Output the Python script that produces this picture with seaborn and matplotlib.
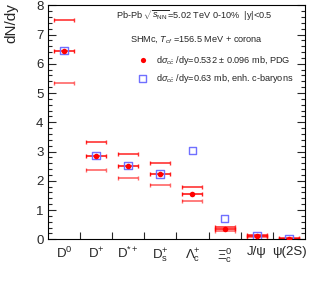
import numpy as np
import pandas as pd
import matplotlib
matplotlib.use("Agg")
import matplotlib.pyplot as plt
from matplotlib.ticker import MultipleLocator, FixedLocator
import seaborn as sns

sns.set_style("white")
plt.rcParams['font.family'] = ['Liberation Sans', 'DejaVu Sans']
plt.rcParams['mathtext.fontset'] = 'custom'
plt.rcParams['mathtext.rm'] = 'Liberation Sans'
plt.rcParams['mathtext.it'] = 'Liberation Sans:italic'
plt.rcParams['mathtext.bf'] = 'Liberation Sans:bold'

particles = [r'D$^{0}$', r'D$^{+}$', r'D$^{*+}$', r'D$^{+}_{\rm s}$',
             r'$\Lambda^{+}_{\rm c}$', r'$\Xi^{0}_{\rm c}$', 'J/ψ', 'ψ(2S)']
central = [6.42, 2.85, 2.52, 2.24, 1.55, 0.35, 0.11, 0.02]
upper = [7.49, 3.32, 2.93, 2.62, 1.79, 0.43, 0.15, 0.035]
lower = [5.35, 2.37, 2.10, 1.85, 1.32, 0.27, 0.07, 0.008]
enhanced = [6.45, 2.86, 2.52, 2.24, 3.03, 0.71, 0.11, 0.02]

df = pd.DataFrame({'particle': particles, 'central': central,
                   'upper': upper, 'lower': lower, 'enhanced': enhanced})
xpos = np.arange(len(particles))

fig = plt.figure(figsize=(3.15, 2.82), dpi=100)
ax = fig.add_axes([0.1514, 0.1514, 0.817, 0.830])

red = '#ff0000'
blue = '#7070ff'
halfw = 0.31
for col, a in [('upper', 0.8), ('lower', 0.6)]:
    ax.errorbar(xpos, df[col], xerr=halfw, fmt='none', ecolor=red, alpha=a,
                elinewidth=1.2, capsize=1.5, capthick=1.0, zorder=2)
ax.errorbar(xpos, df['central'], xerr=halfw, fmt='none', ecolor=red, alpha=0.9,
            elinewidth=1.2, capsize=1.5, capthick=1.0, zorder=2)

sns.scatterplot(data=df, x='particle', y='enhanced', ax=ax, marker='s', s=30,
                facecolor='none', edgecolor=blue, linewidth=1.0, zorder=3)
sns.scatterplot(data=df, x='particle', y='central', ax=ax, marker='o', s=16,
                color=red, edgecolor=red, linewidth=0, zorder=4)

ax.set_xlim(-0.5, len(particles) - 0.5)
ax.set_ylim(0, 8)
ax.set_xlabel('')
ax.set_ylabel('')
ax.set_xticks(xpos)
ax.set_xticklabels(particles)
ax.xaxis.set_minor_locator(FixedLocator(xpos[:-1] + 0.5))
ax.yaxis.set_major_locator(MultipleLocator(1))
ax.yaxis.set_minor_locator(MultipleLocator(0.2))
ax.tick_params(axis='x', which='major', length=0, pad=5, labelsize=9.5)
ax.tick_params(axis='x', which='minor', direction='in', length=5, width=0.8,
               bottom=True, top=False)
ax.tick_params(axis='y', which='major', direction='in', length=6, width=0.8,
               left=True, right=True, labelsize=9.5, pad=3)
ax.tick_params(axis='y', which='minor', direction='in', length=3, width=0.8,
               left=True, right=True)
for s in ax.spines.values():
    s.set_linewidth(0.8)
    s.set_color('black')

fig.text(0.036, 0.988, 'dN/dy', rotation=90, ha='center', va='top', fontsize=11)

ax.text(0.265, 0.955, r'Pb-Pb $\sqrt{s_{\rm NN}}$=5.02 TeV 0-10%  |y|<0.5',
        transform=ax.transAxes, fontsize=6.6, va='center', ha='left')
ax.text(0.32, 0.855, r'SHMc, $T_{cf}$ =156.5 MeV + corona',
        transform=ax.transAxes, fontsize=6.6, va='center', ha='left')
ax.scatter([0.37], [0.765], transform=ax.transAxes, marker='o', s=14, color=red,
           linewidth=0, zorder=5)
ax.text(0.42, 0.765, r'd$\sigma_{c\bar{c}}$ /dy=0.532 $\pm$ 0.096 mb, PDG',
        transform=ax.transAxes, fontsize=6.6, va='center', ha='left')
ax.scatter([0.37], [0.688], transform=ax.transAxes, marker='s', s=26,
           facecolor='none', edgecolor=blue, linewidth=1.0, zorder=5)
ax.text(0.42, 0.688, r'd$\sigma_{c\bar{c}}$ /dy=0.63 mb, enh. c-baryons',
        transform=ax.transAxes, fontsize=6.6, va='center', ha='left')

fig.savefig('out.png', dpi=100)
